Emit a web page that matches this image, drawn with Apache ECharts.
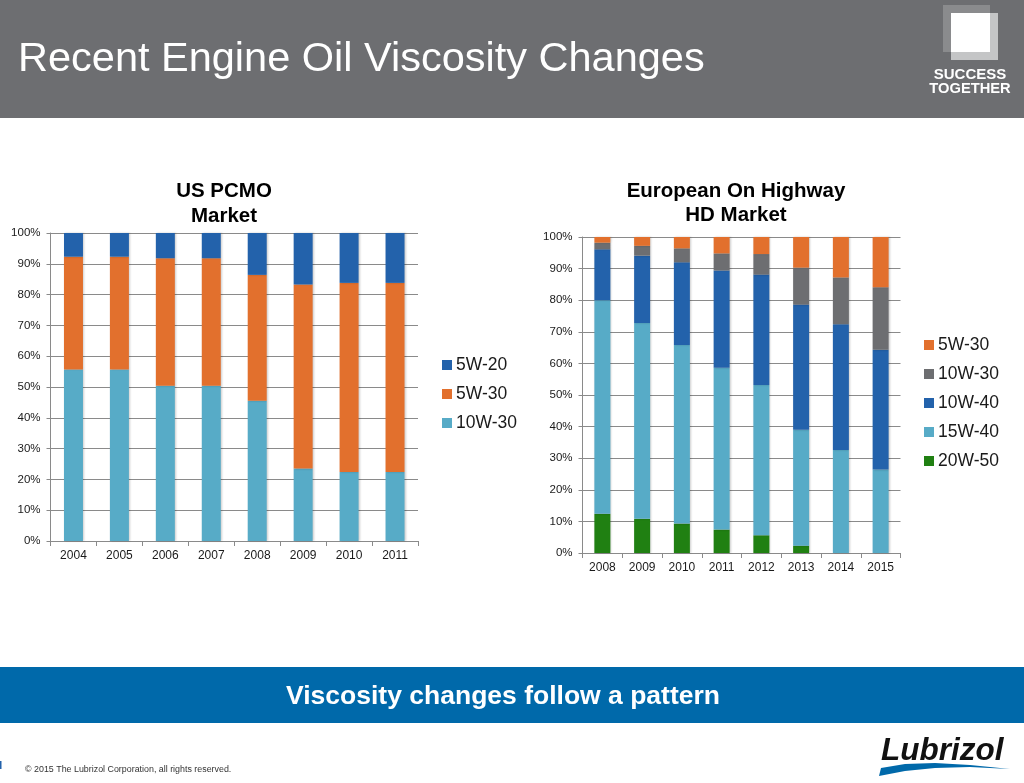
<!DOCTYPE html>
<html>
<head>
<meta charset="utf-8">
<title>Recent Engine Oil Viscosity Changes</title>
<script src="https://cdn.jsdelivr.net/npm/echarts@6/dist/echarts.min.js"></script>
<style>
  html, body { margin: 0; padding: 0; background: #fff; }
  #chart { width: 1024px; height: 783px; }
</style>
</head>
<body>
<div id="chart"></div>
<script>
var usYears = ['2004', '2005', '2006', '2007', '2008', '2009', '2010', '2011'];
var us10W30 = [55.7, 55.7, 50.4, 50.4, 45.5, 23.5, 22.4, 22.4];
var us5W30 = [36.6, 36.6, 41.4, 41.4, 40.9, 59.8, 61.4, 61.4];
var us5W20 = [7.7, 7.7, 8.2, 8.2, 13.6, 16.7, 16.2, 16.2];

var euYears = ['2008', '2009', '2010', '2011', '2012', '2013', '2014', '2015'];
var eu20W50 = [12.4, 10.8, 9.3, 7.4, 5.6, 2.3, 0, 0];
var eu15W40 = [67.6, 62, 56.5, 51.2, 47.6, 36.7, 32.6, 26.4];
var eu10W40 = [16.1, 21.3, 26.2, 30.8, 34.9, 39.6, 39.8, 37.9];
var eu10W30 = [2.1, 3.1, 4.4, 5.4, 6.5, 11.7, 14.8, 19.8];
var eu5W30 = [1.8, 2.8, 3.6, 5.2, 5.4, 9.7, 12.8, 15.9];

var ORANGE = '#e2702d';
var BLUE = '#2362ab';
var LIGHT = '#57abc7';
var GREY = '#6d6e71';
var GREEN = '#208012';
var FONT = '"Liberation Sans", Arial, sans-serif';

var myChart = echarts.init(document.getElementById('chart'), null, { renderer: 'canvas' });

function xAxis(years, gridIndex) {
  return {
    type: 'category',
    gridIndex: gridIndex,
    data: years,
    axisLine: { lineStyle: { color: '#8a8a8a', width: 1 } },
    axisTick: { show: true, length: 5, lineStyle: { color: '#8a8a8a' } },
    axisLabel: { color: '#1a1a1a', fontSize: 12, fontFamily: FONT, margin: 9, interval: 0 }
  };
}

function yAxis(gridIndex) {
  return {
    type: 'value',
    gridIndex: gridIndex,
    min: 0,
    max: 100,
    interval: 10,
    axisLine: { show: true, lineStyle: { color: '#8a8a8a', width: 1 } },
    axisTick: { show: true, length: 4, lineStyle: { color: '#8a8a8a' } },
    axisLabel: { color: '#1a1a1a', fontSize: 11.5, fontFamily: FONT, margin: 10, formatter: '{value}%' },
    splitLine: { lineStyle: { color: '#8a8a8a', width: 1 } }
  };
}

function bar(name, data, color, idx, stack, width) {
  return {
    name: name,
    type: 'bar',
    stack: stack,
    xAxisIndex: idx,
    yAxisIndex: idx,
    barWidth: width,
    data: data,
    silent: true,
    itemStyle: { color: color, shadowColor: 'rgba(0,0,0,0.2)', shadowBlur: 2, shadowOffsetX: 1 }
  };
}

function legend(left, top, items) {
  return {
    orient: 'vertical',
    left: left,
    top: top,
    itemWidth: 10,
    itemHeight: 10,
    itemGap: 11,
    selectedMode: false,
    icon: 'rect',
    textStyle: { color: '#1a1a1a', fontSize: 17.5, fontFamily: FONT, padding: [0, 0, 0, -1] },
    data: items
  };
}

var option = {
  animation: false,
  backgroundColor: '#fff',
  title: [
    {
      text: 'US PCMO\nMarket', left: 219, top: 174, textAlign: 'center',
      textStyle: { color: '#000', fontSize: 20.5, fontWeight: 'bold', fontFamily: FONT, lineHeight: 25 }
    },
    {
      text: 'European On Highway\nHD Market', left: 731, top: 174, textAlign: 'center',
      textStyle: { color: '#000', fontSize: 20.5, fontWeight: 'bold', fontFamily: FONT, lineHeight: 24 }
    }
  ],
  legend: [
    legend(437, 351, [
      { name: '5W-20', itemStyle: { color: BLUE } },
      { name: '5W-30', itemStyle: { color: ORANGE } },
      { name: '10W-30', itemStyle: { color: LIGHT } }
    ]),
    legend(919, 331, [
      { name: '5W-30', itemStyle: { color: ORANGE } },
      { name: '10W-30', itemStyle: { color: GREY } },
      { name: '10W-40', itemStyle: { color: BLUE } },
      { name: '15W-40', itemStyle: { color: LIGHT } },
      { name: '20W-50', itemStyle: { color: GREEN } }
    ])
  ],
  grid: [
    { left: 50.5, top: 233, width: 367.5, height: 308 },
    { left: 582.5, top: 237, width: 318, height: 316 }
  ],
  xAxis: [xAxis(usYears, 0), xAxis(euYears, 1)],
  yAxis: [yAxis(0), yAxis(1)],
  series: [
    bar('10W-30', us10W30, LIGHT, 0, 'us', 19),
    bar('5W-30', us5W30, ORANGE, 0, 'us', 19),
    bar('5W-20', us5W20, BLUE, 0, 'us', 19),
    bar('20W-50', eu20W50, GREEN, 1, 'eu', 16),
    bar('15W-40', eu15W40, LIGHT, 1, 'eu', 16),
    bar('10W-40', eu10W40, BLUE, 1, 'eu', 16),
    bar('10W-30', eu10W30, GREY, 1, 'eu', 16),
    bar('5W-30', eu5W30, ORANGE, 1, 'eu', 16)
  ],
  // slide furniture: header, banner, footer, logos
  graphic: [
    { type: 'rect', z: -1, shape: { x: 0, y: 0, width: 1024, height: 118 }, style: { fill: '#6d6e71' } },
    { type: 'text', x: 18, y: 59.5, style: { text: 'Recent Engine Oil Viscosity Changes', fill: '#fff', font: '41.5px ' + FONT, textVerticalAlign: 'middle' } },
    { type: 'rect', shape: { x: 943, y: 5, width: 47, height: 47 }, style: { fill: 'rgba(255,255,255,0.2)' } },
    { type: 'rect', shape: { x: 951, y: 13, width: 47, height: 47 }, style: { fill: 'rgba(255,255,255,0.6)' } },
    { type: 'rect', shape: { x: 951, y: 13, width: 39, height: 39 }, style: { fill: '#fff' } },
    { type: 'text', x: 970, y: 75, style: { text: 'SUCCESS', fill: '#fff', font: 'bold 15px ' + FONT, textAlign: 'center', textVerticalAlign: 'middle' } },
    { type: 'text', x: 970, y: 89, style: { text: 'TOGETHER', fill: '#fff', font: 'bold 14.7px ' + FONT, textAlign: 'center', textVerticalAlign: 'middle' } },
    { type: 'rect', shape: { x: 0, y: 667, width: 1024, height: 56 }, style: { fill: '#0069aa' } },
    { type: 'text', x: 503, y: 697, style: { text: 'Viscosity changes follow a pattern', fill: '#fff', font: 'bold 26.5px ' + FONT, textAlign: 'center', textVerticalAlign: 'middle' } },
    { type: 'text', x: 25, y: 770, style: { text: '\u00a9 2015 The Lubrizol Corporation, all rights reserved.', fill: '#333', font: '8.9px ' + FONT, textVerticalAlign: 'middle' } },
    { type: 'rect', shape: { x: 0, y: 761, width: 1.5, height: 8 }, style: { fill: '#2362ab' } },
    { type: 'text', x: 881, y: 751, style: { text: 'Lubrizol', fill: '#111', font: 'italic bold 31.5px ' + FONT, textVerticalAlign: 'middle' } },
    { type: 'polygon', shape: { points: [[879, 776], [881, 768], [905, 764], [935, 763], [970, 765], [1010, 769], [970, 767], [935, 768], [905, 771]] }, style: { fill: '#0069aa' } }
  ]
};

myChart.setOption(option);
</script>
</body>
</html>
